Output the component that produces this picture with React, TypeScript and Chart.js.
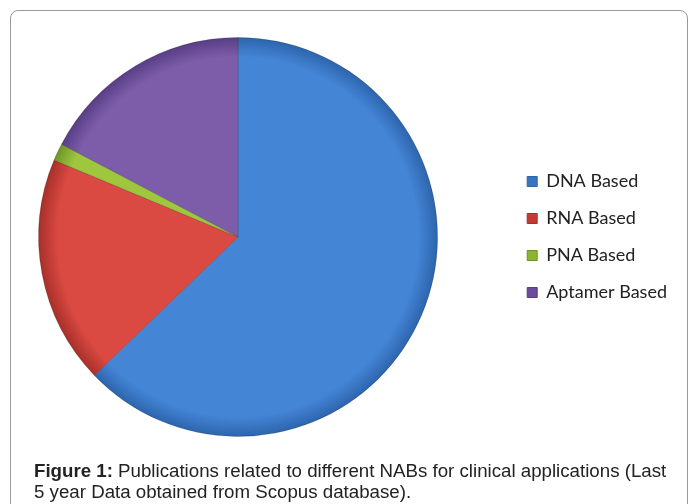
import React, { useEffect, useRef } from "react";
import { Chart, registerables } from "chart.js";

Chart.register(...registerables);

const categories = ["DNA Based", "RNA Based", "PNA Based", "Aptamer Based"];
const values = [62.8, 18.5, 1.4, 17.3];
const colors = ["#4585d6", "#db4a42", "#9ec73e", "#7d5daa"];
const rimColors = ["#2c64ac", "#a62f29", "#6c9426", "#583d86"];
const legendColors = ["#3a75c4", "#c53a33", "#8db533", "#6a4c98"];
const captionBold = "Figure 1:";
const captionLine1 = " Publications related to different NABs for clinical applications (Last";
const captionLine2 = "5 year Data obtained from Scopus database).";

export default function App() {
  const canvasRef = useRef<HTMLCanvasElement | null>(null);

  useEffect(() => {
    if (!canvasRef.current) return;
    const chart = new Chart(canvasRef.current, {
      type: "pie",
      data: {
        labels: categories,
        datasets: [
          {
            data: values,
            backgroundColor: (ctx: any) => {
              const i = ctx.dataIndex;
              const area = ctx.chart.chartArea;
              if (!area) return colors[i];
              const cx = (area.left + area.right) / 2;
              const cy = (area.top + area.bottom) / 2;
              const r = Math.min(area.right - area.left, area.bottom - area.top) / 2;
              const g = ctx.chart.ctx.createRadialGradient(cx, cy, 0, cx, cy, r);
              g.addColorStop(0, colors[i]);
              g.addColorStop(0.9, colors[i]);
              g.addColorStop(1, rimColors[i]);
              return g;
            },
            borderColor: "rgba(0,0,0,0.18)",
            borderWidth: 1,
          },
        ],
      },
      options: {
        responsive: false,
        animation: false,
        layout: { padding: { left: 8, top: 37, bottom: 67, right: 15 } },
        plugins: {
          tooltip: { enabled: false },
          legend: {
            position: "right",
            labels: {
              boxWidth: 10,
              boxHeight: 10,
              padding: 19,
              color: "#222",
              font: { family: "Lato", size: 18 },
              generateLabels: () =>
                categories.map((t, i) => ({
                  text: t,
                  fillStyle: legendColors[i],
                  strokeStyle: rimColors[i],
                  lineWidth: 1,
                  hidden: false,
                  index: i,
                  fontColor: "#222",
                })),
            },
          },
        },
      },
    });
    return () => chart.destroy();
  }, []);

  return (
    <div style={{ position: "absolute", left: 0, top: 0, width: 692, height: 504, overflow: "hidden", background: "#fff" }}>
      <div
        style={{
          position: "absolute",
          left: 10,
          top: 10,
          width: 678,
          height: 520,
          border: "1px solid #9a9a9a",
          borderRadius: 8,
          boxSizing: "border-box",
        }}
      />
      <canvas ref={canvasRef} width={732} height={504} style={{ position: "absolute", left: -40, top: 0 }} />
      <div
        style={{
          position: "absolute",
          left: 34,
          top: 460,
          fontFamily: "'Liberation Sans', Arial, sans-serif",
          fontSize: 18.7,
          lineHeight: "21px",
          color: "#222",
          whiteSpace: "nowrap",
        }}
      >
        <b>{captionBold}</b>
        {captionLine1}
        <br />
        {captionLine2}
      </div>
    </div>
  );
}
